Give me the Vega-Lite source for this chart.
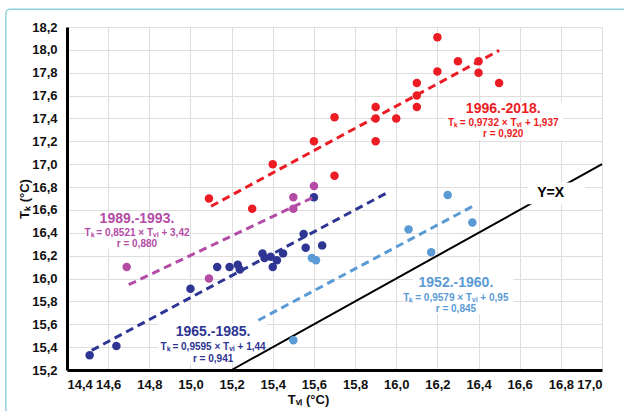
{
  "$schema": "https://vega.github.io/schema/vega-lite/v6.json",
  "width": 535,
  "height": 343,
  "autosize": {"type": "none"},
  "padding": {"left": 67, "top": 27, "right": 22, "bottom": 41},
  "background": "white",
  "config": {
    "view": {"stroke": null},
    "font": "Liberation Sans",
    "axis": {
      "grid": true,
      "gridColor": "#dedede",
      "gridWidth": 1,
      "domainColor": "black",
      "domainWidth": 3,
      "ticks": false,
      "labelFont": "Liberation Sans",
      "labelFontSize": 13,
      "labelFontWeight": "bold",
      "labelColor": "#111111",
      "titleFont": "Liberation Sans",
      "titleFontSize": 13,
      "titleFontWeight": "bold",
      "titleColor": "#111111"
    }
  },
  "datasets": {
    "points": [
      {"series": "1996.-2018.", "x": 15.09, "y": 16.7},
      {"series": "1996.-2018.", "x": 15.3, "y": 16.61},
      {"series": "1996.-2018.", "x": 15.4, "y": 17.0},
      {"series": "1996.-2018.", "x": 15.6, "y": 17.2},
      {"series": "1996.-2018.", "x": 15.7, "y": 17.41},
      {"series": "1996.-2018.", "x": 15.7, "y": 16.9},
      {"series": "1996.-2018.", "x": 15.9, "y": 17.5},
      {"series": "1996.-2018.", "x": 15.9, "y": 17.4},
      {"series": "1996.-2018.", "x": 15.9, "y": 17.2},
      {"series": "1996.-2018.", "x": 16.0, "y": 17.4},
      {"series": "1996.-2018.", "x": 16.1, "y": 17.71},
      {"series": "1996.-2018.", "x": 16.1, "y": 17.6},
      {"series": "1996.-2018.", "x": 16.1, "y": 17.5},
      {"series": "1996.-2018.", "x": 16.2, "y": 18.11},
      {"series": "1996.-2018.", "x": 16.2, "y": 17.81},
      {"series": "1996.-2018.", "x": 16.3, "y": 17.9},
      {"series": "1996.-2018.", "x": 16.4, "y": 17.9},
      {"series": "1996.-2018.", "x": 16.4, "y": 17.8},
      {"series": "1996.-2018.", "x": 16.5, "y": 17.71},
      {"series": "1989.-1993.", "x": 14.69, "y": 16.1},
      {"series": "1989.-1993.", "x": 15.09, "y": 16.0},
      {"series": "1989.-1993.", "x": 15.5, "y": 16.71},
      {"series": "1989.-1993.", "x": 15.5, "y": 16.61},
      {"series": "1989.-1993.", "x": 15.6, "y": 16.81},
      {"series": "1965.-1985.", "x": 14.51, "y": 15.33},
      {"series": "1965.-1985.", "x": 14.64, "y": 15.41},
      {"series": "1965.-1985.", "x": 15.0, "y": 15.91},
      {"series": "1965.-1985.", "x": 15.13, "y": 16.1},
      {"series": "1965.-1985.", "x": 15.19, "y": 16.1},
      {"series": "1965.-1985.", "x": 15.23, "y": 16.12},
      {"series": "1965.-1985.", "x": 15.24, "y": 16.08},
      {"series": "1965.-1985.", "x": 15.35, "y": 16.22},
      {"series": "1965.-1985.", "x": 15.36, "y": 16.18},
      {"series": "1965.-1985.", "x": 15.39, "y": 16.19},
      {"series": "1965.-1985.", "x": 15.4, "y": 16.1},
      {"series": "1965.-1985.", "x": 15.42, "y": 16.16},
      {"series": "1965.-1985.", "x": 15.45, "y": 16.22},
      {"series": "1965.-1985.", "x": 15.55, "y": 16.39},
      {"series": "1965.-1985.", "x": 15.56, "y": 16.27},
      {"series": "1965.-1985.", "x": 15.64, "y": 16.29},
      {"series": "1965.-1985.", "x": 15.6, "y": 16.71},
      {"series": "1952.-1960.", "x": 16.25, "y": 16.73},
      {"series": "1952.-1960.", "x": 16.37, "y": 16.49},
      {"series": "1952.-1960.", "x": 16.06, "y": 16.43},
      {"series": "1952.-1960.", "x": 16.17, "y": 16.23},
      {"series": "1952.-1960.", "x": 15.59, "y": 16.18},
      {"series": "1952.-1960.", "x": 15.61, "y": 16.16},
      {"series": "1952.-1960.", "x": 15.5, "y": 15.46}
    ],
    "fits": [
      {"series": "1996.-2018.", "x": 15.1, "y": 16.632},
      {"series": "1996.-2018.", "x": 16.5, "y": 17.995},
      {"series": "1989.-1993.", "x": 14.7, "y": 15.946},
      {"series": "1989.-1993.", "x": 15.6, "y": 16.713},
      {"series": "1965.-1985.", "x": 14.52, "y": 15.372},
      {"series": "1965.-1985.", "x": 15.96, "y": 16.754},
      {"series": "1952.-1960.", "x": 15.33, "y": 15.635},
      {"series": "1952.-1960.", "x": 16.38, "y": 16.64}
    ],
    "identity": [
      {"series": "Y=X", "x": 15.2, "y": 15.2},
      {"series": "Y=X", "x": 17.0, "y": 17.0}
    ],
    "boxes": [
      {"x": 16.24, "x2": 16.81, "y": 17.54, "y2": 17.21},
      {"x": 14.49, "x2": 14.99, "y": 16.57, "y2": 16.26},
      {"x": 14.84, "x2": 15.37, "y": 15.61, "y2": 15.26},
      {"x": 16.08, "x2": 16.57, "y": 16.05, "y2": 15.69}
    ],
    "yxbox": [
      {"x": 16.64, "x2": 16.92, "y": 16.84, "y2": 16.65}
    ],
    "titles": [
      {"series": "1996.-2018.", "x": 16.52, "y": 17.48, "label": "1996.-2018."},
      {"series": "1989.-1993.", "x": 14.74, "y": 16.52, "label": "1989.-1993."},
      {"series": "1965.-1985.", "x": 15.11, "y": 15.53, "label": "1965.-1985."},
      {"series": "1952.-1960.", "x": 16.29, "y": 15.96, "label": "1952.-1960."},
      {"series": "Y=X", "x": 16.75, "y": 16.745, "label": "Y=X"}
    ],
    "notes": [
      {"series": "1996.-2018.", "x": 16.52, "y": 17.36, "label": "Tₖ = 0,9732 × Tᵥₗ + 1,937"},
      {"series": "1996.-2018.", "x": 16.52, "y": 17.26, "label": "r = 0,920"},
      {"series": "1989.-1993.", "x": 14.74, "y": 16.4, "label": "Tₖ = 0,8521 × Tᵥₗ + 3,42"},
      {"series": "1989.-1993.", "x": 14.74, "y": 16.3, "label": "r = 0,880"},
      {"series": "1965.-1985.", "x": 15.11, "y": 15.4, "label": "Tₖ = 0,9595 × Tᵥₗ + 1,44"},
      {"series": "1965.-1985.", "x": 15.11, "y": 15.3, "label": "r = 0,941"},
      {"series": "1952.-1960.", "x": 16.29, "y": 15.83, "label": "Tₖ = 0,9579 × Tᵥₗ + 0,95"},
      {"series": "1952.-1960.", "x": 16.29, "y": 15.73, "label": "r = 0,845"}
    ],
    "frame": [
      {"x": 14.103, "x2": 17.3, "y": 18.355, "y2": 14.8}
    ]
  },
  "encoding": {
    "x": {
      "field": "x", "type": "quantitative",
      "scale": {"domain": [14.4, 17.0], "nice": false, "zero": false},
      "axis": {
        "title": "Tᵥₗ (°C)",
        "values": [14.4, 14.6, 14.8, 15.0, 15.2, 15.4, 15.6, 15.8, 16.0, 16.2, 16.4, 16.6, 16.8, 17.0],
        "labelExpr": "replace(format(datum.value, '.1f'), '.', ',')",
        "labelPadding": 8,
        "titlePadding": 2,
        "titleX": 241
      }
    },
    "y": {
      "field": "y", "type": "quantitative",
      "scale": {"domain": [15.2, 18.2], "nice": false, "zero": false},
      "axis": {
        "title": "Tₖ (°C)",
        "values": [15.2, 15.4, 15.6, 15.8, 16.0, 16.2, 16.4, 16.6, 16.8, 17.0, 17.2, 17.4, 17.6, 17.8, 18.0, 18.2],
        "labelExpr": "replace(format(datum.value, '.1f'), '.', ',')",
        "labelPadding": 10,
        "titlePadding": 0
      }
    },
    "color": {
      "field": "series", "type": "nominal", "legend": null,
      "scale": {
        "domain": ["1952.-1960.", "1965.-1985.", "1989.-1993.", "1996.-2018.", "Y=X"],
        "range": ["#5b9bd5", "#2e3592", "#b44ca6", "#ec1c24", "#000000"]
      }
    }
  },
  "layer": [
    {
      "data": {"name": "frame"},
      "mark": {"type": "rect", "fill": null, "stroke": "#8fd2d8", "strokeWidth": 1.5, "cornerRadius": 4},
      "encoding": {
        "x": {"field": "x", "type": "quantitative"},
        "x2": {"field": "x2"},
        "y": {"field": "y", "type": "quantitative"},
        "y2": {"field": "y2"},
        "color": {"value": null}
      }
    },
    {
      "data": {"name": "boxes"},
      "mark": {"type": "rect", "fill": "white", "strokeWidth": 0},
      "encoding": {
        "x": {"field": "x", "type": "quantitative"},
        "x2": {"field": "x2"},
        "y": {"field": "y", "type": "quantitative"},
        "y2": {"field": "y2"},
        "color": {"value": "white"}
      }
    },
    {
      "data": {"name": "identity"},
      "mark": {"type": "line", "strokeWidth": 2},
      "encoding": {}
    },
    {
      "data": {"name": "yxbox"},
      "mark": {"type": "rect", "fill": "white", "strokeWidth": 0},
      "encoding": {
        "x": {"field": "x", "type": "quantitative"},
        "x2": {"field": "x2"},
        "y": {"field": "y", "type": "quantitative"},
        "y2": {"field": "y2"},
        "color": {"value": "white"}
      }
    },
    {
      "data": {"name": "points"},
      "mark": {"type": "circle", "size": 72, "opacity": 1}
    },
    {
      "data": {"name": "fits"},
      "mark": {"type": "line", "strokeWidth": 3, "strokeDash": [8, 5]},
      "encoding": {"detail": {"field": "series"}}
    },
    {
      "data": {"name": "titles"},
      "mark": {"type": "text", "fontSize": 14, "fontWeight": "bold", "align": "center", "baseline": "middle"},
      "encoding": {"text": {"field": "label"}}
    },
    {
      "data": {"name": "notes"},
      "mark": {"type": "text", "fontSize": 10, "fontWeight": "bold", "align": "center", "baseline": "middle"},
      "encoding": {"text": {"field": "label"}}
    }
  ]
}
